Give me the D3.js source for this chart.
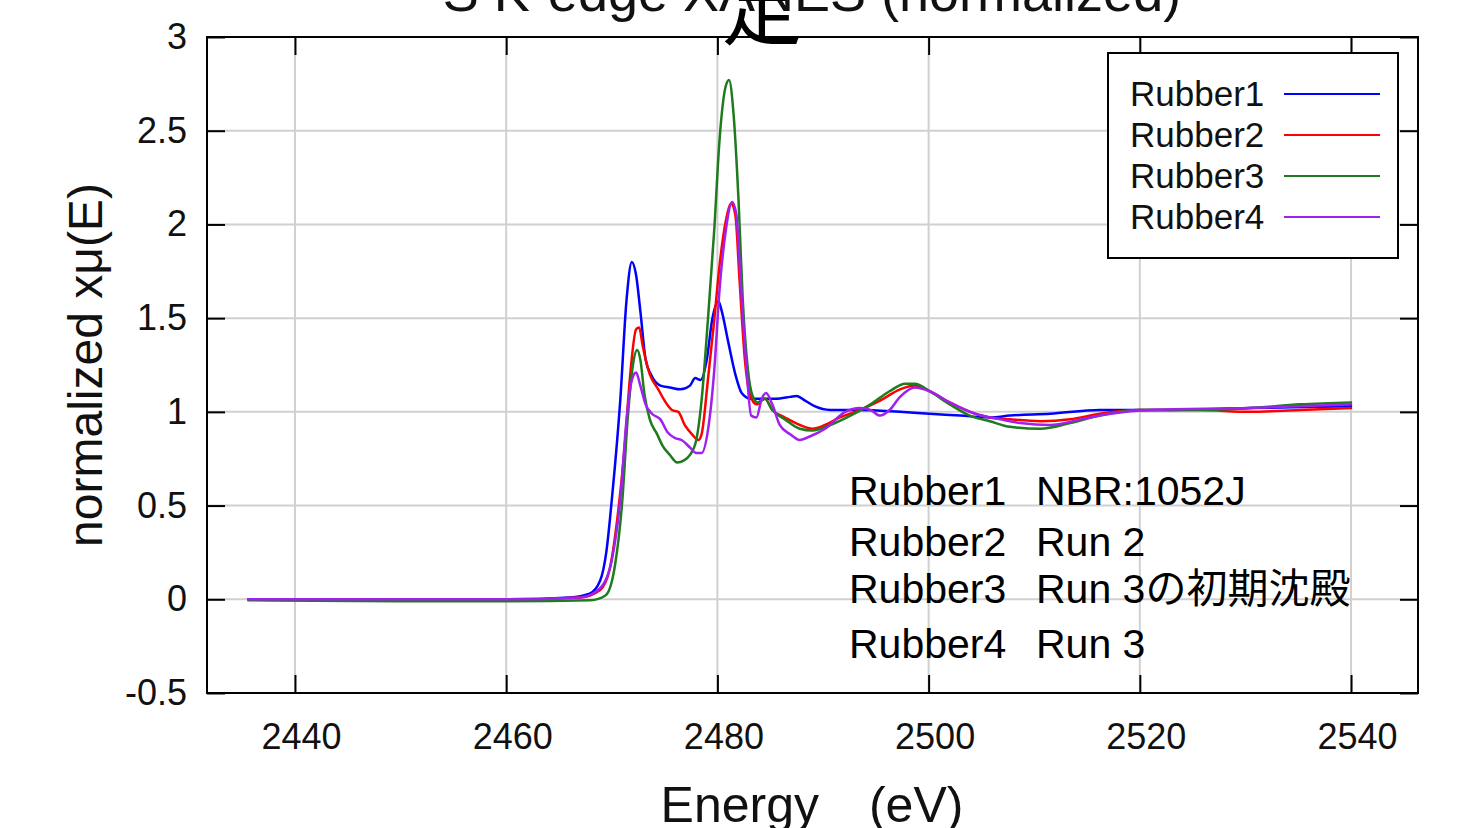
<!DOCTYPE html>
<html>
<head>
<meta charset="utf-8">
<script src="https://cdn.jsdelivr.net/npm/d3@7"></script>
<style>
  body { margin: 0; background: #fff; }
  text { font-family: "Liberation Sans", Arial, "Noto Sans CJK JP", sans-serif; }
</style>
</head>
<body>
<div id="chart"></div>
<script>
// series names, colours and notes
const seriesNames = ["Rubber1", "Rubber2", "Rubber3", "Rubber4"];
const seriesColors = ["#0000ff", "#ff0000", "#1e7b1e", "#a020f0"];
const seriesNotes = ["NBR:1052J", "Run 2", "Run 3の初期沈殿", "Run 3"];

// tick labels
const xTicks = [2440, 2460, 2480, 2500, 2520, 2540];
const yTicks = [-0.5, 0, 0.5, 1, 1.5, 2, 2.5, 3];

// Rubber1 (blue)
const rubber1E = [2435.5, 2450, 2460, 2466, 2467.9, 2468.9, 2469.5, 2470, 2470.8, 2471.4, 2471.9, 2472.3, 2472.7, 2473.2, 2473.7, 2474.6, 2475.5, 2476.5, 2477.4, 2477.9, 2478.4, 2479, 2479.5, 2480.1, 2480.4, 2481, 2481.7, 2482.3, 2483.1, 2484, 2485.5, 2486.9, 2487.5, 2488.3, 2489.2, 2490.7, 2493.5, 2497.3, 2500.1, 2503, 2505.8, 2507.7, 2511.5, 2516.2, 2521, 2530.4, 2540.1];
const rubber1Mu = [0, 0, 0, 0.01, 0.03, 0.1, 0.26, 0.53, 1.06, 1.6, 1.8, 1.73, 1.54, 1.28, 1.2, 1.14, 1.13, 1.12, 1.14, 1.18, 1.17, 1.28, 1.49, 1.59, 1.54, 1.38, 1.2, 1.1, 1.07, 1.07, 1.07, 1.08, 1.085, 1.06, 1.03, 1.01, 1.01, 1.0, 0.99, 0.98, 0.97, 0.98, 0.99, 1.01, 1.01, 1.02, 1.03];

// Rubber2 (red)
const rubber2E = [2435.5, 2450, 2460, 2467, 2468.9, 2469.8, 2470.5, 2471.2, 2471.7, 2472.3, 2472.6, 2472.9, 2473.6, 2474.4, 2475, 2475.7, 2476.3, 2476.9, 2477.6, 2478.2, 2478.5, 2479.1, 2479.7, 2480.2, 2480.8, 2481.3, 2481.7, 2482.1, 2482.6, 2483.1, 2483.7, 2484.5, 2485.2, 2486.4, 2487.8, 2489, 2490.2, 2491.6, 2493.5, 2495.4, 2497.3, 2498.7, 2500.1, 2502, 2503.9, 2505.8, 2507.7, 2510.6, 2513.4, 2516.2, 2520, 2525.7, 2530.4, 2535.2, 2540.1];
const rubber2Mu = [0, 0, 0, 0.01, 0.05, 0.16, 0.42, 0.8, 1.17, 1.44, 1.45, 1.36, 1.2, 1.12, 1.06, 1.01, 1.0, 0.93, 0.88, 0.85, 0.88, 1.17, 1.49, 1.78, 2.02, 2.11, 2.05, 1.7, 1.28, 1.09, 1.04, 1.07, 1.01, 0.97, 0.93, 0.91, 0.93, 0.97, 1.01, 1.06, 1.12, 1.14, 1.11, 1.05, 1.0, 0.97, 0.96, 0.95, 0.96, 0.99, 1.01, 1.01, 1.0, 1.01, 1.02];

// Rubber3 (green)
const rubber3E = [2435.5, 2450, 2460, 2468, 2469.4, 2470.3, 2471, 2471.5, 2472, 2472.4, 2472.7, 2473.1, 2473.6, 2474.3, 2474.8, 2475.5, 2476.2, 2476.8, 2477.4, 2478, 2478.5, 2479.1, 2479.7, 2480.2, 2480.8, 2481.1, 2481.5, 2482, 2482.4, 2482.9, 2483.3, 2483.8, 2484.5, 2485.2, 2486.4, 2487.8, 2489, 2490.7, 2492.6, 2494.5, 2496.3, 2497.8, 2498.7, 2500.1, 2502, 2503.9, 2505.8, 2507.7, 2510.6, 2513.4, 2516.2, 2520, 2525.7, 2530.4, 2535.2, 2540.1];
const rubber3Mu = [-0.005, -0.01, -0.01, -0.005, 0.02, 0.18, 0.53, 0.96, 1.25, 1.33, 1.28, 1.09, 0.96, 0.88, 0.82, 0.77, 0.73, 0.74, 0.77, 0.85, 1.06, 1.49, 1.97, 2.45, 2.74, 2.77, 2.61, 2.13, 1.6, 1.22, 1.09, 1.05, 1.07, 1.01, 0.96, 0.91, 0.9, 0.93, 0.98, 1.04, 1.11, 1.15, 1.15, 1.11, 1.04, 0.98, 0.95, 0.92, 0.91, 0.94, 0.98, 1.01, 1.01, 1.02, 1.04, 1.05];

// Rubber4 (purple)
const rubber4E = [2435.5, 2450, 2460, 2467, 2468.9, 2470, 2470.8, 2471.4, 2471.9, 2472.3, 2472.7, 2473.2, 2473.8, 2474.6, 2475.3, 2476, 2476.6, 2477.4, 2478, 2478.5, 2479.1, 2479.7, 2480.2, 2480.8, 2481.4, 2481.8, 2482.2, 2482.7, 2483.2, 2483.7, 2484.2, 2484.6, 2485.2, 2485.9, 2486.9, 2487.8, 2488.8, 2490.2, 2492.1, 2493.5, 2494.5, 2495.4, 2496.3, 2497.3, 2498.7, 2500.1, 2502, 2504.4, 2506.8, 2508.7, 2511.5, 2514.4, 2517.2, 2521, 2530.4, 2540.1];
const rubber4Mu = [0, 0, 0, 0.01, 0.06, 0.21, 0.53, 0.96, 1.17, 1.21, 1.14, 1.04, 0.99, 0.96, 0.89, 0.86, 0.85, 0.81, 0.78, 0.78, 0.9, 1.22, 1.65, 1.97, 2.12, 2.05, 1.7, 1.28, 0.98, 0.97, 1.07, 1.1, 1.04, 0.93, 0.88, 0.85, 0.87, 0.91, 1.0, 1.02, 1.01, 0.98, 1.01, 1.08, 1.13, 1.11, 1.05, 0.99, 0.96, 0.94, 0.93, 0.96, 0.99, 1.01, 1.02, 1.04];

const allE = [rubber1E, rubber2E, rubber3E, rubber4E];
const allMu = [rubber1Mu, rubber2Mu, rubber3Mu, rubber4Mu];

const W = 1463, H = 828;
const margin = {top: 37, right: 45, bottom: 135, left: 207},
    width = W - margin.left - margin.right,
    height = H - margin.top - margin.bottom;

const root = d3.select("#chart").append("svg")
    .attr("width", W).attr("height", H);

// title, cut off at the top edge
root.append("text")
    .attr("x", 812).attr("y", 11)
    .attr("text-anchor", "middle")
    .style("font-size", "54px")
    .attr("fill", "#111")
    .text("S K-edge XANES (normalized)");

const svg = root.append("g")
    .attr("transform", `translate(${margin.left},${margin.top})`);

const x = d3.scaleLinear().domain([2431.67, 2546.34]).range([0, width]);
const y = d3.scaleLinear().domain([-0.5, 3]).range([height, 0]);

// grid
svg.append("g")
  .selectAll("line")
  .data(xTicks)
  .join("line")
    .attr("x1", d => x(d)).attr("x2", d => x(d))
    .attr("y1", 0).attr("y2", height)
    .attr("stroke", "#d0d0d0").attr("stroke-width", 2);
svg.append("g")
  .selectAll("line")
  .data(yTicks.filter(d => d > -0.5 && d < 3))
  .join("line")
    .attr("x1", 0).attr("x2", width)
    .attr("y1", d => y(d)).attr("y2", d => y(d))
    .attr("stroke", "#d0d0d0").attr("stroke-width", 2);

// axes (ticks inward, mirrored)
const tickLen = 18;
const styleAxis = g => {
  g.select(".domain").remove();
  g.selectAll(".tick line").attr("stroke", "#000").attr("stroke-width", 2);
  g.selectAll(".tick text").style("font-size", "36px").attr("fill", "#111");
};
svg.append("g")
  .attr("transform", `translate(0,${height})`)
  .call(d3.axisBottom(x).tickValues(xTicks).tickSize(-tickLen).tickPadding(30).tickFormat(d3.format("d")))
  .call(styleAxis)
  .selectAll(".tick text").attr("dx", 6);
svg.append("g")
  .call(d3.axisTop(x).tickValues(xTicks).tickSize(-tickLen).tickFormat(""))
  .call(styleAxis);
svg.append("g")
  .call(d3.axisLeft(y).tickValues(yTicks).tickSize(-tickLen).tickPadding(20).tickFormat(d => String(d)))
  .call(styleAxis);
svg.append("g")
  .attr("transform", `translate(${width},0)`)
  .call(d3.axisRight(y).tickValues(yTicks).tickSize(-tickLen).tickFormat(""))
  .call(styleAxis);

// curves
const line = d3.line()
  .x(d => x(d[0]))
  .y(d => y(d[1]))
  .curve(d3.curveMonotoneX);

seriesNames.forEach((name, i) => {
  const pts = allE[i].map((e, j) => [e, allMu[i][j]]);
  svg.append("path")
    .datum(pts)
    .attr("fill", "none")
    .attr("stroke", seriesColors[i])
    .attr("stroke-width", 2.5)
    .attr("d", line);
});

// frame
svg.append("rect")
  .attr("width", width).attr("height", height)
  .attr("fill", "none").attr("stroke", "#000").attr("stroke-width", 2);

// legend
const lg = root.append("g").attr("transform", "translate(1108,53)");
lg.append("rect")
  .attr("width", 290).attr("height", 205)
  .attr("fill", "#fff").attr("stroke", "#000").attr("stroke-width", 2);
seriesNames.forEach((name, i) => {
  const cy = 41 + i * 41;
  lg.append("text")
    .attr("x", 22).attr("y", cy + 12)
    .style("font-size", "35px")
    .attr("fill", "#111")
    .text(name);
  lg.append("line")
    .attr("x1", 176).attr("x2", 272)
    .attr("y1", cy).attr("y2", cy)
    .attr("stroke", seriesColors[i]).attr("stroke-width", 2.2);
});

// annotation block
const noteY = [505, 556, 603, 658];
seriesNames.forEach((name, i) => {
  root.append("text")
    .attr("x", 849).attr("y", noteY[i])
    .style("font-size", "41px")
    .text(name);
  root.append("text")
    .attr("x", 1036).attr("y", noteY[i])
    .style("font-size", "41px")
    .text(seriesNotes[i]);
});

// axis titles
root.append("text")
  .attr("x", 812).attr("y", 822)
  .attr("text-anchor", "middle")
  .style("font-size", "50px")
  .attr("fill", "#111")
  .text("Energy\u3000(eV)");

root.append("text")
  .attr("transform", "translate(102,365) rotate(-90)")
  .attr("text-anchor", "middle")
  .style("font-size", "48px")
  .attr("fill", "#111")
  .text("normalized xμ(E)");

// stray glyph over the title
root.append("text")
  .attr("x", 762).attr("y", 38)
  .attr("text-anchor", "middle")
  .style("font-size", "80px")
  .style("font-family", "'Noto Sans CJK JP', sans-serif")
  .text("定");
</script>
</body>
</html>
